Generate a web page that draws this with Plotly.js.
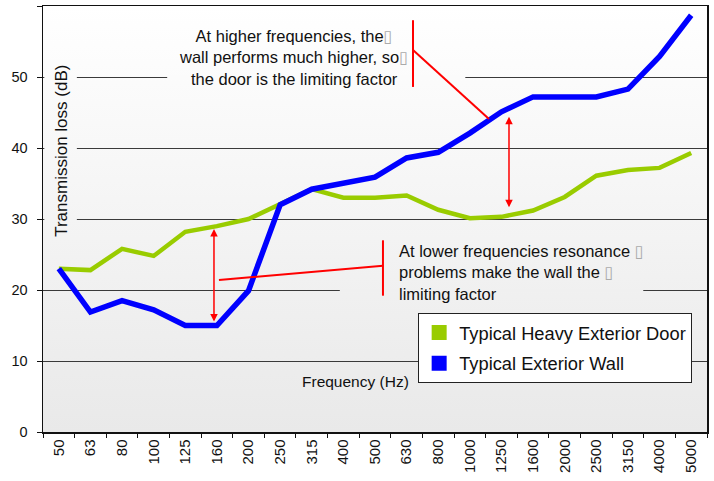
<!DOCTYPE html>
<html>
<head>
<meta charset="utf-8">
<script src="https://cdn.plot.ly/plotly-3.0.1.min.js"></script>
<style>
  body { margin: 0; background: #fff; }
  #wrap { position: relative; width: 714px; height: 481px; }
  #bg { position: absolute; left: 43px; top: 6px; width: 664px; height: 426px;
        background: linear-gradient(#ffffff, #e9e9e9); }
  #chart { position: absolute; left: 0; top: 0; width: 714px; height: 481px; }
</style>
</head>
<body>
<div id="wrap">
  <div id="bg"></div>
  <div id="chart"></div>
</div>
<script>
var frecuencias = ["50","63","80","100","125","160","200","250","315","400","500","630","800","1000","1250","1600","2000","2500","3150","4000","5000"];
var puerta = [23.0, 22.8, 25.8, 24.8, 28.2, 29.0, 30.0, 32.1, 34.2, 33.0, 33.0, 33.3, 31.3, 30.1, 30.3, 31.2, 33.1, 36.1, 36.9, 37.2, 39.3];
var pared = [23.0, 16.9, 18.5, 17.2, 15.0, 15.0, 19.9, 32.0, 34.2, 35.1, 35.9, 38.6, 39.4, 42.1, 45.1, 47.2, 47.2, 47.2, 48.3, 52.9, 58.7];
var nombres = ["Typical Heavy Exterior Door", "Typical Exterior Wall"];
var colores = ["#99cc00", "#0000ff"];

function GraficoPuertaPared(){
	var caja = '<span style="color:#aaaaaa;font-family:DejaVu Sans">\u25AF</span>';

	var data = [{
		x: frecuencias,
		y: puerta,
		type: "scatter",
		mode: "lines",
		showlegend: false,
		line: {color: colores[0], width: 4.5}
	},{
		x: frecuencias,
		y: pared,
		type: "scatter",
		mode: "lines",
		showlegend: false,
		line: {color: colores[1], width: 5.5}
	},{
		// solo para la leyenda
		x: [null], y: [null],
		type: "scatter",
		mode: "markers",
		name: nombres[0],
		legendgroup: "a",
		marker: {symbol: "square", size: 15, color: colores[0]}
	},{
		x: [null], y: [null],
		type: "scatter",
		mode: "markers",
		name: nombres[1],
		legendgroup: "b",
		marker: {symbol: "square", size: 15, color: colores[1]}
	}];

	// tapas para cortar las lineas de grilla donde hay texto
	function tapa(x0, x1, y, color){
		return {type: "rect", xref: "paper", yref: "y", x0: x0, x1: x1, y0: y - 0.25, y1: y + 0.25,
			fillcolor: color, line: {width: 0}, layer: "above"};
	}
	function linea(x0, y0, x1, y1){
		return {type: "line", xref: "paper", yref: "y", x0: x0, y0: y0, x1: x1, y1: y1,
			line: {color: "#ff0000", width: 2}, layer: "above"};
	}

	var shapes = [
		tapa(0.187, 0.636, 50, "#fbfbfb"),
		tapa(0.002, 0.051, 50, "#fbfbfb"),
		tapa(0.002, 0.051, 40, "#f8f8f8"),
		tapa(0.002, 0.051, 30, "#f4f4f4"),
		tapa(0.447, 0.904, 20, "#f0f0f0"),
		linea(0.5572, 58.0, 0.5572, 48.6),
		linea(0.5572, 53.8, 0.6717, 44.1),
		linea(0.512, 27.0, 0.512, 19.2),
		linea(0.265, 21.4, 0.512, 23.4)
	];

	var flecha = {xref: "paper", yref: "y", text: "", showarrow: true, axref: "pixel", ayref: "pixel", ax: 0,
		arrowside: "end+start", arrowhead: 2, startarrowhead: 2, arrowsize: 1, startarrowsize: 1,
		arrowwidth: 1.5, arrowcolor: "#ff0000", standoff: 0, startstandoff: 0};

	var annotations = [
		{xref: "paper", yref: "y", x: 0.378, y: 52.8, xanchor: "center", yanchor: "middle", align: "center",
		 showarrow: false, font: {size: 16.5, color: "#111"},
		 text: "At higher frequencies, the" + caja + "<br>wall performs much higher, so" + caja + "<br>the door is the limiting factor"},
		{xref: "paper", yref: "y", x: 0.533, y: 22.4, xanchor: "left", yanchor: "middle", align: "left",
		 showarrow: false, font: {size: 16.5, color: "#111"},
		 text: "At lower frequencies resonance " + caja + "<br>problems make the wall the " + caja + "<br>limiting factor"},
		{xref: "paper", yref: "y", x: 0.0286, y: 39.6, xanchor: "center", yanchor: "middle", textangle: -90, showarrow: false,
		 font: {size: 17, color: "#111"}, text: "Transmission loss (dB)"},
		{xref: "paper", yref: "y", x: 0.47, y: 7.1, xanchor: "center", showarrow: false,
		 font: {size: 15.5, color: "#111"}, text: "Frequency (Hz)"},
		Object.assign({}, flecha, {x: 0.2575, y: 28.6, ay: 94}),
		Object.assign({}, flecha, {x: 0.7018, y: 44.4, ay: 92})
	];

	var layout = {
		width: 714,
		height: 481,
		margin: {l: 43, r: 7, t: 6, b: 49},
		paper_bgcolor: "rgba(0,0,0,0)",
		plot_bgcolor: "rgba(0,0,0,0)",
		font: {family: "Liberation Sans, Arial, sans-serif", color: "#111"},
		xaxis: {
			type: "category",
			range: [-0.5, 20.5],
			tickson: "boundaries",
			ticks: "outside",
			ticklen: 4,
			tickcolor: "#111",
			tickangle: -90,
			tickfont: {size: 15, color: "#111"},
			showgrid: false,
			showline: true,
			linecolor: "#111",
			linewidth: 1.5,
			mirror: true,
			fixedrange: true
		},
		yaxis: {
			range: [0, 60],
			dtick: 10,
			ticks: "outside",
			ticklen: 5,
			tickcolor: "#111",
			tickfont: {size: 14.5, color: "#111"},
			ticklabelstandoff: 6,
			showgrid: true,
			gridcolor: "#3a3a3a",
			gridwidth: 1,
			zeroline: false,
			showline: true,
			linecolor: "#111",
			linewidth: 1.5,
			mirror: true,
			fixedrange: true
		},
		showlegend: true,
		legend: {
			x: 0.565, y: 0.279, xanchor: "left", yanchor: "top",
			bgcolor: "#ffffff", bordercolor: "#222", borderwidth: 1,
			font: {size: 18.3, color: "#111"},
			tracegroupgap: 4
		},
		shapes: shapes,
		annotations: annotations
	};

	var config = {responsive: false, displayModeBar: false, staticPlot: true};

	Plotly.newPlot("chart", data, layout, config);
}

document.addEventListener("DOMContentLoaded", function() {
	GraficoPuertaPared();
});
</script>
</body>
</html>
